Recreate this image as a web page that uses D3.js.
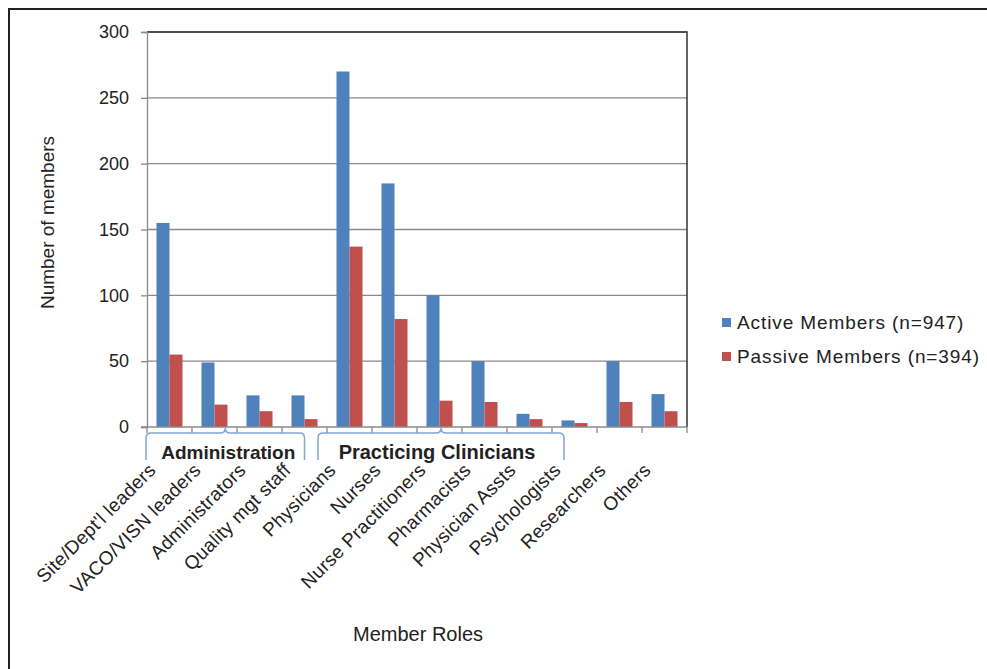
<!DOCTYPE html>
<html>
<head>
<meta charset="utf-8">
<script src="https://cdn.jsdelivr.net/npm/d3@7"></script>
<style>
body { margin: 0; background: #fff; }
text { font-family: "Liberation Sans", Arial, sans-serif; fill: #222; }
</style>
</head>
<body>
<div id="chart"></div>
<script>
// member roles along the x axis
var roles = ["Site/Dept'l leaders", "VACO/VISN leaders", "Administrators", "Quality mgt staff",
	"Physicians", "Nurses", "Nurse Practitioners", "Pharmacists", "Physician Assts",
	"Psychologists", "Researchers", "Others"];
var activeMembers = [155, 49, 24, 24, 270, 185, 100, 50, 10, 5, 50, 25];
var passiveMembers = [55, 17, 12, 6, 137, 82, 20, 19, 6, 3, 19, 12];
var seriesNames = ["Active Members (n=947)", "Passive Members (n=394)"];
var yTicks = [0, 50, 100, 150, 200, 250, 300];
var groupNames = ["Administration", "Practicing Clinicians"];

var width = 987, height = 669;
var margin = {top: 32, right: 300, bottom: 242, left: 147};
var colors = ["#4f81bd", "#c0504d"];

var svg = d3.select("#chart").append("svg")
	.attr("width", width)
	.attr("height", height);

// outer frame
svg.append("path")
	.attr("d", "M9," + height + "V9H" + width)
	.attr("fill", "none")
	.attr("stroke", "#222")
	.attr("stroke-width", 2);

var x = d3.scaleBand()
	.domain(roles)
	.range([margin.left, width - margin.right])
	.paddingInner(0)
	.paddingOuter(0);

var y = d3.scaleLinear()
	.domain([0, 300])
	.range([height - margin.bottom, margin.top]);

var xSub = d3.scaleBand()
	.domain([0, 1])
	.range([0, x.bandwidth()])
	.paddingInner(0)
	.paddingOuter(0.73);

// gridlines
svg.append("g")
	.selectAll("line")
	.data(yTicks.filter(function(d) { return d > 0; }))
	.join("line")
	.attr("x1", margin.left)
	.attr("x2", width - margin.right)
	.attr("y1", function(d) { return y(d); })
	.attr("y2", function(d) { return y(d); })
	.attr("stroke", "#8a8a8a")
	.attr("stroke-width", 1.3);

// top and right border of plot area
svg.append("path")
	.attr("d", "M" + margin.left + "," + y(300) + "H" + (width - margin.right) + "V" + y(0))
	.attr("fill", "none")
	.attr("stroke", "#333")
	.attr("stroke-width", 1.5);

// bars
var series = [activeMembers, passiveMembers];
series.forEach(function(values, s) {
	svg.append("g")
		.selectAll("rect")
		.data(values)
		.join("rect")
		.attr("x", function(d, i) { return x(roles[i]) + xSub(s); })
		.attr("y", function(d) { return y(d); })
		.attr("width", xSub.bandwidth())
		.attr("height", function(d) { return y(0) - y(d); })
		.attr("fill", colors[s]);
});

// y axis
var yAxis = d3.axisLeft(y)
	.tickValues(yTicks)
	.tickSize(6)
	.tickPadding(12);

svg.append("g")
	.attr("transform", "translate(" + margin.left + ",0)")
	.call(yAxis)
	.call(function(g) {
		g.selectAll("path, line").attr("stroke", "#8a8a8a").attr("stroke-width", 1.3);
		g.selectAll("text").style("font-size", "18px").style("font-family", "Liberation Sans, Arial, sans-serif").attr("fill", "#222");
	});

// x axis, ticks at category boundaries
var xAxisG = svg.append("g");
xAxisG.append("line")
	.attr("x1", margin.left - 6)
	.attr("x2", width - margin.right)
	.attr("y1", y(0))
	.attr("y2", y(0))
	.attr("stroke", "#8a8a8a")
	.attr("stroke-width", 1.3);
xAxisG.selectAll("line.tick")
	.data(roles.concat(["end"]))
	.join("line")
	.attr("class", "tick")
	.attr("x1", function(d, i) { return margin.left + i * x.step(); })
	.attr("x2", function(d, i) { return margin.left + i * x.step(); })
	.attr("y1", y(0))
	.attr("y2", y(0) + 6)
	.attr("stroke", "#8a8a8a")
	.attr("stroke-width", 1.3);

// category labels rotated
xAxisG.selectAll("text")
	.data(roles)
	.join("text")
	.attr("transform", function(d) {
		return "translate(" + (x(d) + x.bandwidth() / 2 - 22) + "," + (y(0) + 35) + ") rotate(-45)";
	})
	.attr("text-anchor", "end")
	.attr("dy", "0.7em")
	.style("font-size", "19px")
	.style("letter-spacing", "0.3px")
	.text(function(d) { return d; });

// group brackets
var groups = [
	{name: groupNames[0], x0: x(roles[0]) - 1, x1: x(roles[3]) + x.bandwidth() / 2},
	{name: groupNames[1], x0: x(roles[4]) - 9, x1: x(roles[9]) + 12}
];
var by = y(0) + 6, bb = y(0) + 33;
groups.forEach(function(gr, i) {
	var pk = (gr.x0 + gr.x1) / 2;
	var r = 5;
	svg.append("path")
		.attr("d", "M" + gr.x0 + "," + bb + "V" + (by + r) + "Q" + gr.x0 + "," + by + " " + (gr.x0 + r) + "," + by +
			"H" + (pk - r) + "Q" + pk + "," + by + " " + pk + "," + (by - r) +
			"Q" + pk + "," + by + " " + (pk + r) + "," + by +
			"H" + (gr.x1 - r) + "Q" + gr.x1 + "," + by + " " + gr.x1 + "," + (by + r) + "V" + bb)
		.attr("fill", "none")
		.attr("stroke", "#7fa6d6")
		.attr("stroke-width", 1.5);
	svg.append("text")
		.attr("x", pk + (i === 0 ? 3 : -4))
		.attr("y", y(0) + 32)
		.attr("text-anchor", "middle")
		.style("font-size", i === 0 ? "19px" : "20px")
		.style("font-weight", "bold")
		.text(gr.name);
});

// axis titles
svg.append("text")
	.attr("transform", "translate(54," + ((y(0) + y(300)) / 2 - 7) + ") rotate(-90)")
	.attr("text-anchor", "middle")
	.style("font-size", "19px")
	.text("Number of members");

svg.append("text")
	.attr("x", 418)
	.attr("y", 641)
	.attr("text-anchor", "middle")
	.style("font-size", "20px")
	.text("Member Roles");

// legend
var legend = svg.append("g")
	.attr("transform", "translate(722,318)");
seriesNames.forEach(function(name, i) {
	legend.append("rect")
		.attr("x", 0)
		.attr("y", i * 34)
		.attr("width", 9)
		.attr("height", 9)
		.attr("fill", colors[i]);
	legend.append("text")
		.attr("x", 15)
		.attr("y", i * 34 + 11)
		.style("font-size", "19px")
		.style("letter-spacing", "0.9px")
		.text(name);
});
</script>
</body>
</html>
